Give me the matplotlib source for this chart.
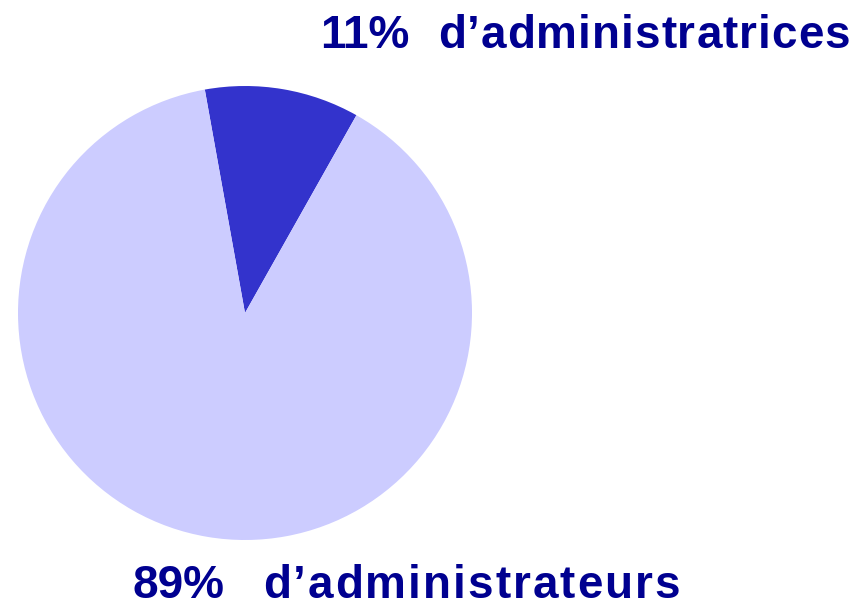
import matplotlib.pyplot as plt

shares = [11, 89]
pcts = ["11%", "89%"]
names = ["d\u2019administratrices", "d\u2019administrateurs"]
colors = ["#3333CC", "#CCCCFF"]
text_color = "#000090"

W, H = 854, 607
fig = plt.figure(figsize=(W / 100, H / 100), dpi=100)

# pie centre (245, 313) px, radius 227 px
cx, cy, r = 245, 313, 227
ax = fig.add_axes([(cx - r) / W, (H - cy - r) / H, 2 * r / W, 2 * r / H])
ax.pie(shares, colors=colors, startangle=100.2, counterclock=False,
       radius=1, wedgeprops=dict(linewidth=0))
ax.set_xlim(-1, 1)
ax.set_ylim(-1, 1)
ax.axis('off')

font = dict(family=["Liberation Sans", "DejaVu Sans"], weight="bold",
            size=33, color=text_color, va="baseline", ha="left")
renderer = fig.canvas.get_renderer()


def text_width(s):
    t = fig.text(0, 0, s, **font)
    w = t.get_window_extent(renderer).width
    t.remove()
    return w


def spaced_word(s, x0, x1, y):
    # lay the word out letter by letter so it spans x0..x1 pixels
    track = (x1 - x0 - text_width(s)) / max(len(s) - 1, 1)
    for i, ch in enumerate(s):
        x = x0 + (text_width(s[:i]) if i else 0) + i * track
        fig.text(x / W, 1 - y / H, ch, **font)


fig.text(320 / W, 1 - 48 / H, pcts[0], **font)
spaced_word(names[0], 438, 850, 48)
fig.text(132 / W, 1 - 598 / H, pcts[1], **font)
spaced_word(names[1], 263, 680, 598)

fig.savefig("out.png", dpi=100)
